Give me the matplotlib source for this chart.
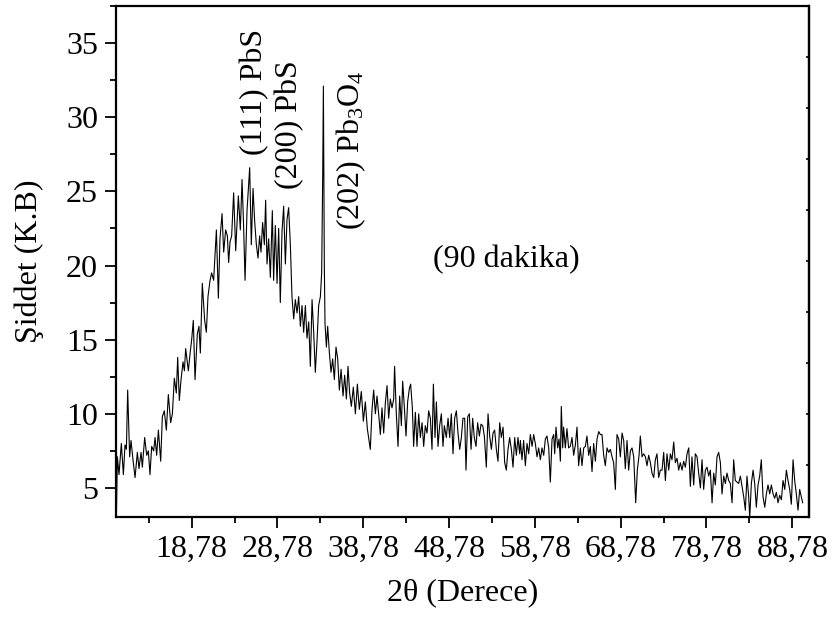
import matplotlib
matplotlib.use("Agg")
import matplotlib.pyplot as plt
from matplotlib.ticker import MultipleLocator, FuncFormatter

two_theta = [
    10.00, 10.12, 10.31, 10.58, 10.82, 11.01, 11.17, 11.32, 11.55, 11.71,
    11.94, 12.18, 12.45, 12.64, 12.88, 13.03, 13.30, 13.54, 13.73, 13.92,
    14.12, 14.35, 14.51, 14.70, 14.90, 15.17, 15.36, 15.59, 15.83, 16.06,
    16.33, 16.53, 16.76, 16.99, 17.15, 17.34, 17.54, 17.77, 17.93, 18.08,
    18.39, 18.62, 18.78, 18.97, 19.17, 19.44, 19.63, 19.79, 20.02, 20.29,
    20.49, 20.68, 20.92, 21.11, 21.34, 21.66, 21.89, 22.08, 22.32, 22.51,
    22.74, 22.94, 23.09, 23.25, 23.44, 23.67, 23.91, 24.22, 24.45, 24.65,
    24.84, 25.00, 25.23, 25.54, 25.73, 25.93, 26.12, 26.32, 26.51, 26.70,
    26.86, 27.05, 27.25, 27.40, 27.56, 27.75, 27.95, 28.18, 28.33, 28.53,
    28.73, 28.92, 29.11, 29.31, 29.50, 29.70, 29.89, 30.08, 30.28, 30.47,
    30.67, 30.86, 31.06, 31.25, 31.45, 31.64, 31.83, 32.03, 32.22, 32.42,
    32.61, 32.81, 33.00, 33.19, 33.39, 33.58, 33.78, 33.93, 34.05, 34.13,
    34.24, 34.32, 34.48, 34.63, 34.83, 35.02, 35.21, 35.41, 35.60, 35.80,
    35.99, 36.19, 36.42, 36.61, 36.81, 37.00, 37.19, 37.39, 37.62, 37.86,
    38.09, 38.32, 38.55, 38.79, 39.02, 39.25, 39.60, 39.80, 39.99, 40.19,
    40.38, 40.57, 40.77, 40.96, 41.16, 41.35, 41.55, 41.74, 41.93, 42.13,
    42.32, 42.43, 42.63, 42.83, 43.02, 43.22, 43.37, 43.57, 43.76, 43.95,
    44.15, 44.30, 44.50, 44.65, 44.85, 45.04, 45.24, 45.43, 45.63, 45.82,
    46.01, 46.21, 46.40, 46.60, 46.79, 46.95, 47.14, 47.30, 47.49, 47.68,
    47.88, 48.07, 48.23, 48.46, 48.66, 48.85, 49.04, 49.24, 49.43, 49.63,
    49.82, 50.02, 50.21, 50.40, 50.60, 50.75, 50.95, 51.14, 51.34, 51.53,
    51.72, 51.92, 52.11, 52.31, 52.50, 52.70, 52.89, 53.12, 53.32, 53.51,
    53.71, 53.90, 54.09, 54.29, 54.48, 54.68, 54.87, 55.07, 55.26, 55.45,
    55.65, 55.84, 56.04, 56.23, 56.43, 56.62, 56.81, 57.01, 57.09, 57.28,
    57.47, 57.67, 57.86, 58.06, 58.25, 58.45, 58.64, 58.83, 59.03, 59.22,
    59.42, 59.61, 59.81, 60.00, 60.19, 60.39, 60.58, 60.78, 60.97, 61.09,
    61.24, 61.44, 61.60, 61.75, 61.86, 62.02, 62.13, 62.33, 62.52, 62.71,
    62.91, 63.11, 63.30, 63.50, 63.69, 63.88, 64.08, 64.27, 64.47, 64.66,
    64.85, 65.05, 65.24, 65.44, 65.63, 65.83, 66.02, 66.22, 66.41, 66.60,
    66.80, 66.99, 67.19, 67.38, 67.58, 67.77, 67.96, 68.16, 68.35, 68.55,
    68.74, 68.94, 69.13, 69.32, 69.52, 69.71, 69.91, 70.10, 70.30, 70.53,
    70.72, 70.92, 71.07, 71.27, 71.46, 71.66, 71.85, 72.04, 72.24, 72.43,
    72.63, 72.82, 73.01, 73.21, 73.40, 73.60, 73.79, 73.99, 74.18, 74.38,
    74.57, 74.76, 74.96, 75.15, 75.35, 75.54, 75.73, 75.93, 76.12, 76.32,
    76.51, 76.71, 76.90, 77.09, 77.29, 77.48, 77.68, 77.87, 78.07, 78.26,
    78.45, 78.65, 78.84, 79.04, 79.23, 79.43, 79.62, 79.81, 80.01, 80.20,
    80.40, 80.59, 80.79, 80.98, 81.17, 81.37, 81.56, 81.76, 81.95, 82.14,
    82.34, 82.53, 82.73, 82.92, 83.12, 83.31, 83.50, 83.70, 83.82, 84.01,
    84.21, 84.40, 84.59, 84.79, 84.98, 85.17, 85.37, 85.57, 85.76, 85.95,
    86.15, 86.34, 86.54, 86.73, 86.92, 87.12, 87.31, 87.51, 87.70, 87.90,
    88.09, 88.28, 88.48, 88.67, 88.87, 89.06, 89.25, 89.45, 89.64, 89.84,
    89.99,
]
intensity = [
    3.0, 7.1, 5.9, 8.0, 5.9, 7.9, 7.6, 11.6, 7.1, 8.2,
    6.9, 5.7, 7.4, 6.3, 7.4, 6.4, 8.4, 7.2, 7.5, 5.9,
    7.8, 7.5, 8.4, 7.2, 8.9, 6.8, 9.8, 10.2, 8.9, 11.3,
    9.4, 10.0, 12.4, 11.4, 13.8, 10.9, 12.3, 13.5, 12.9, 14.4,
    12.9, 14.2, 15.0, 16.3, 12.3, 15.4, 15.9, 14.1, 18.8, 16.3,
    15.5, 17.9, 19.0, 19.5, 19.0, 22.4, 17.8, 21.8, 23.5, 20.9,
    22.4, 22.0, 20.2, 21.6, 22.0, 24.9, 21.0, 24.7, 22.4, 25.8,
    22.5, 19.0, 23.7, 26.6, 21.4, 25.2, 23.0, 21.4, 20.5, 22.0,
    20.9, 22.9, 21.4, 24.4, 20.1, 21.8, 19.2, 23.7, 19.0, 22.7,
    18.8, 22.5, 17.5, 22.3, 24.0, 20.1, 23.1, 23.9, 21.4, 17.9,
    16.4, 17.7, 16.8, 17.9, 15.9, 17.3, 15.5, 17.3, 15.1, 16.2,
    13.2, 17.7, 15.5, 12.8, 14.9, 17.3, 17.9, 19.5, 26.0, 32.1,
    20.0, 16.1, 14.5, 15.9, 14.1, 12.8, 13.7, 12.3, 14.5, 13.7,
    11.6, 13.0, 11.2, 12.6, 11.0, 13.2, 11.4, 10.5, 11.8, 10.0,
    12.0, 10.3, 11.5, 9.5, 10.8, 9.0, 7.6, 10.3, 11.6, 10.0,
    11.2, 10.0, 8.6, 10.4, 8.7, 10.7, 11.9, 9.7, 11.0, 10.4,
    11.0, 13.2, 10.0, 7.8, 11.2, 9.2, 12.2, 10.4, 8.5, 10.8,
    11.7, 12.0, 10.4, 7.8, 10.1, 7.8, 10.0, 8.4, 9.4, 7.8,
    9.2, 8.7, 10.2, 9.7, 7.6, 12.0, 8.4, 10.8, 7.8, 9.2,
    10.0, 7.8, 9.2, 8.4, 9.7, 8.4, 10.0, 7.3, 9.7, 10.2,
    8.7, 7.6, 8.4, 9.7, 9.7, 6.2, 9.8, 10.0, 7.6, 9.7,
    8.4, 7.8, 9.4, 8.5, 9.3, 9.2, 8.5, 6.4, 10.0, 8.5,
    7.6, 8.7, 8.9, 7.6, 6.8, 9.4, 8.4, 9.1, 6.7, 6.2,
    7.6, 8.4, 7.6, 6.4, 8.4, 7.2, 8.4, 7.3, 8.2, 6.9,
    8.2, 6.5, 8.0, 7.3, 8.6, 7.8, 8.6, 8.0, 7.1, 7.7,
    6.9, 7.7, 7.2, 8.3, 8.5, 7.7, 5.4, 8.3, 8.6, 7.3,
    9.1, 7.7, 8.3, 6.8, 10.5, 7.7, 9.1, 7.7, 9.0, 7.7,
    7.8, 8.4, 7.2, 7.9, 9.1, 6.5, 7.7, 6.5, 7.7, 7.8,
    8.5, 7.2, 7.8, 6.1, 8.0, 6.8, 8.3, 8.8, 8.6, 8.6,
    7.2, 6.5, 7.7, 7.4, 7.6, 7.1, 6.7, 4.9, 8.6, 8.3,
    7.1, 8.7, 8.2, 6.3, 8.2, 6.2, 7.5, 7.7, 7.1, 4.0,
    6.2, 7.2, 8.5, 7.1, 7.3, 7.1, 6.5, 7.2, 6.7, 6.0,
    5.7, 6.9, 7.3, 5.7, 6.2, 6.2, 7.4, 5.5, 7.3, 6.2,
    7.3, 6.9, 8.1, 6.7, 7.0, 6.2, 6.7, 6.2, 6.8, 6.4,
    7.3, 7.7, 5.1, 7.1, 5.2, 7.3, 7.1, 6.0, 5.0, 6.9,
    4.9, 6.2, 6.4, 5.8, 6.2, 4.0, 6.0, 5.2, 7.1, 7.4,
    6.7, 4.6, 5.8, 5.3, 6.0, 5.5, 5.3, 4.0, 6.9, 5.5,
    5.4, 5.3, 5.8, 5.1, 4.4, 3.5, 5.8, 4.4, 3.0, 5.3,
    6.2, 5.3, 3.7, 5.2, 5.8, 6.9, 4.4, 3.7, 4.6, 5.2,
    4.6, 5.2, 4.6, 4.3, 4.7, 4.0, 4.5, 4.2, 5.5, 4.9,
    6.2, 5.5, 4.9, 3.9, 6.9, 5.5, 4.6, 3.5, 4.9, 4.4,
    4.0,
]

peak_labels = ["(111) PbS", "(200) PbS", r"(202) Pb$_3$O$_4$"]
sample_label = "(90 dakika)"

plt.rcParams["font.family"] = ["Liberation Serif", "DejaVu Serif"]
plt.rcParams["mathtext.fontset"] = "custom"
plt.rcParams["mathtext.rm"] = "Liberation Serif"
plt.rcParams["mathtext.it"] = "Liberation Serif:italic"
plt.rcParams["font.size"] = 23

fig = plt.figure(figsize=(8.32, 6.22), dpi=100)
ax = fig.add_axes([116 / 832, 1 - 517 / 622, (808.5 - 116) / 832, (517 - 6) / 622])

ax.plot(two_theta, intensity, color="black", linewidth=0.8)

ax.set_xlim(9.96, 90.67)
ax.set_ylim(3.04, 37.5)

ax.xaxis.set_major_locator(MultipleLocator(10, offset=8.78))
ax.xaxis.set_minor_locator(MultipleLocator(10, offset=3.78))
ax.xaxis.set_major_formatter(FuncFormatter(lambda v, _: f"{v:.2f}".replace(".", ",")))
ax.yaxis.set_major_locator(MultipleLocator(5))
ax.yaxis.set_minor_locator(MultipleLocator(2.5))

ax.tick_params(which="major", direction="out", length=8, width=1.3, pad=5)
ax.tick_params(which="minor", direction="out", length=4.5, width=1.3)
for sp in ax.spines.values():
    sp.set_linewidth(1.6)

# small inward ticks on the right frame
sec = ax.secondary_yaxis("right")
sec.set_yticks([34.06, 30.62, 27.18, 23.74, 20.30, 16.86, 13.42, 9.98, 6.54])
sec.tick_params(direction="in", length=2.5, width=1.2, labelright=False)
sec.yaxis.set_minor_locator(MultipleLocator(100))
sec.spines["right"].set_linewidth(1.6)

ax.set_xlabel("2θ (Derece)", labelpad=10)
ax.set_ylabel("Şiddet (K.B)", labelpad=16)

ax.text(26.08, 31.7, peak_labels[0], rotation=90, ha="center", va="center")
ax.text(30.16, 29.5, peak_labels[1], rotation=90, ha="center", va="center")
ax.text(37.36, 27.8, peak_labels[2], rotation=90, ha="center", va="center")
ax.text(55.5, 20.4, sample_label, ha="center", va="center")

fig.savefig("out.png", dpi=100)
